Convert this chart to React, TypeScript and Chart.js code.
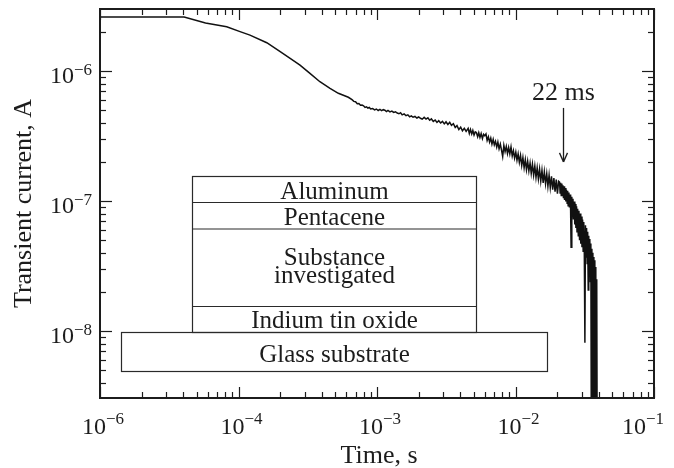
import { useEffect, useRef } from "react";
import { Chart, registerables } from "chart.js";

Chart.register(...registerables);

// ---- data (time in s, current in A) ----
const earlyTimes = [
  1e-5, 4.05e-5, 5.78e-5, 8.22e-5, 1.026e-4, 1.21e-4, 1.6e-4, 2.0e-4, 2.36e-4, 2.78e-4, 3.28e-4, 3.87e-4,
  4.58e-4, 5.26e-4, 6.21e-4,
];
const earlyCurrents = [
  2.6e-6, 2.6e-6, 2.34e-6, 2.19e-6, 2.01e-6, 1.89e-6, 1.65e-6, 1.41e-6, 1.25e-6, 1.11e-6, 9.6e-7, 8.27e-7,
  7.36e-7, 6.74e-7, 6.28e-7,
];

const plateauTimes = [
  6.6e-4, 6.8e-4, 7.0e-4, 7.2e-4, 7.4e-4, 7.6e-4, 7.8e-4, 8.0e-4, 8.2e-4, 8.4e-4, 8.6e-4, 8.8e-4, 9.0e-4,
  9.3e-4, 9.6e-4, 9.9e-4,
  1.02e-3, 1.05e-3, 1.08e-3, 1.11e-3, 1.14e-3, 1.17e-3, 1.2e-3, 1.24e-3, 1.28e-3, 1.32e-3,
  1.36e-3, 1.4e-3, 1.44e-3, 1.48e-3, 1.52e-3, 1.57e-3, 1.62e-3, 1.67e-3, 1.72e-3, 1.77e-3,
  1.82e-3, 1.88e-3, 1.94e-3, 2.0e-3, 2.06e-3, 2.12e-3, 2.19e-3, 2.26e-3, 2.33e-3, 2.4e-3,
  2.47e-3, 2.55e-3, 2.63e-3, 2.71e-3, 2.79e-3, 2.88e-3, 2.97e-3, 3.06e-3, 3.15e-3, 3.25e-3,
  3.35e-3, 3.45e-3, 3.56e-3, 3.67e-3, 3.78e-3, 3.9e-3, 4.02e-3, 4.14e-3, 4.27e-3, 4.4e-3,
];
const plateauCurrents = [
  6.02e-7, 5.84e-7, 5.81e-7, 5.6e-7, 5.63e-7, 5.45e-7, 5.47e-7, 5.4e-7, 5.25e-7, 5.3e-7, 5.19e-7, 5.24e-7, 5.1e-7,
  5.15e-7, 5.02e-7, 5.1e-7,
  4.97e-7, 5.06e-7, 4.96e-7, 5.04e-7, 4.99e-7, 4.88e-7, 4.97e-7, 4.85e-7, 4.92e-7, 4.8e-7,
  4.86e-7, 4.75e-7, 4.69e-7, 4.78e-7, 4.6e-7, 4.68e-7, 4.53e-7, 4.6e-7, 4.44e-7, 4.52e-7,
  4.41e-7, 4.47e-7, 4.35e-7, 4.43e-7, 4.33e-7, 4.26e-7, 4.4e-7, 4.27e-7, 4.36e-7, 4.18e-7,
  4.28e-7, 4.1e-7, 4.2e-7, 4.02e-7, 4.15e-7, 3.98e-7, 4.1e-7, 3.92e-7, 4.07e-7, 3.88e-7,
  4.03e-7, 3.82e-7, 3.93e-7, 3.68e-7, 3.8e-7, 3.55e-7, 3.7e-7, 3.47e-7, 3.62e-7, 3.43e-7,
];

const decayTimes = [
  4.55e-3, 4.64e-3, 4.73e-3, 4.83e-3, 4.92e-3, 5.02e-3, 5.12e-3, 5.22e-3, 5.33e-3, 5.43e-3,
  5.54e-3, 5.65e-3, 5.77e-3, 5.88e-3, 6.0e-3, 6.12e-3, 6.24e-3, 6.37e-3, 6.5e-3, 6.63e-3,
  6.76e-3, 6.9e-3, 7.03e-3, 7.17e-3, 7.32e-3, 7.46e-3, 7.61e-3, 7.77e-3, 7.92e-3, 8.08e-3,
  8.24e-3, 8.41e-3, 8.58e-3, 8.75e-3, 8.92e-3, 9.1e-3, 9.28e-3, 9.47e-3, 9.66e-3, 9.85e-3,
  1.005e-2, 1.025e-2, 1.045e-2, 1.066e-2, 1.087e-2, 1.109e-2, 1.131e-2, 1.154e-2, 1.177e-2, 1.2e-2,
  1.224e-2, 1.249e-2, 1.274e-2, 1.299e-2, 1.325e-2, 1.352e-2, 1.379e-2, 1.406e-2, 1.434e-2, 1.463e-2,
  1.492e-2, 1.522e-2, 1.553e-2, 1.584e-2, 1.615e-2, 1.648e-2, 1.681e-2, 1.714e-2, 1.748e-2, 1.783e-2,
  1.819e-2, 1.855e-2, 1.893e-2, 1.93e-2, 1.969e-2, 2.008e-2, 2.048e-2,
];
const decayCurrents = [
  3.62e-7, 3.31e-7, 3.55e-7, 3.28e-7, 3.49e-7, 3.22e-7, 3.4e-7, 3.36e-7, 3.12e-7, 3.35e-7,
  3.08e-7, 3.3e-7, 3.02e-7, 3.26e-7, 3.18e-7, 3.28e-7, 2.92e-7, 3.12e-7, 2.84e-7, 3.05e-7,
  2.74e-7, 2.98e-7, 2.7e-7, 2.88e-7, 2.6e-7, 2.84e-7, 2.52e-7, 2.74e-7, 2.47e-7, 2.2e-7,
  2.68e-7, 2.4e-7, 2.63e-7, 2.32e-7, 2.58e-7, 2.3e-7, 2.6e-7, 2.22e-7, 2.44e-7, 2.14e-7,
  2.38e-7, 2.06e-7, 2.3e-7, 1.98e-7, 2.24e-7, 1.88e-7, 2.16e-7, 1.8e-7, 2.08e-7, 1.74e-7,
  2.02e-7, 1.7e-7, 1.96e-7, 1.63e-7, 1.92e-7, 1.58e-7, 1.86e-7, 1.52e-7, 1.8e-7, 1.48e-7,
  1.76e-7, 1.42e-7, 1.72e-7, 1.38e-7, 1.68e-7, 1.36e-7, 1.62e-7, 1.3e-7, 1.58e-7, 1.27e-7,
  1.55e-7, 1.22e-7, 1.5e-7, 1.18e-7, 1.46e-7, 1.14e-7, 1.42e-7,
];

const tailTimes = [
  2.08e-2, 2.1e-2, 2.12e-2, 2.14e-2, 2.16e-2, 2.18e-2, 2.2e-2, 2.22e-2, 2.24e-2, 2.26e-2,
  2.29e-2, 2.31e-2, 2.33e-2, 2.36e-2, 2.38e-2, 2.4e-2, 2.43e-2, 2.45e-2, 2.48e-2, 2.5e-2,
  2.52e-2, 2.55e-2, 2.57e-2, 2.6e-2, 2.62e-2, 2.65e-2, 2.68e-2, 2.7e-2, 2.73e-2, 2.76e-2,
  2.78e-2, 2.81e-2, 2.84e-2, 2.87e-2, 2.9e-2, 2.93e-2, 2.96e-2, 2.99e-2, 3.02e-2, 3.05e-2,
  3.08e-2, 3.11e-2, 3.14e-2, 3.17e-2, 3.2e-2, 3.23e-2, 3.26e-2, 3.29e-2, 3.32e-2, 3.35e-2,
  3.38e-2, 3.41e-2, 3.44e-2, 3.47e-2, 3.5e-2, 3.53e-2, 3.56e-2, 3.59e-2, 3.62e-2, 3.65e-2,
  3.68e-2, 3.71e-2, 3.74e-2, 3.77e-2, 3.8e-2, 3.83e-2, 3.86e-2, 3.89e-2,
];
const tailCurrents = [
  14.0e-8, 11.5e-8, 13.8e-8, 11.0e-8, 13.6e-8, 11.3e-8, 13.2e-8, 10.5e-8, 13.0e-8, 10.2e-8,
  12.6e-8, 9.9e-8, 12.2e-8, 9.6e-8, 12.0e-8, 9.2e-8, 11.6e-8, 8.9e-8, 11.2e-8, 8.5e-8,
  4.4e-8, 10.8e-8, 7.6e-8, 10.4e-8, 7.2e-8, 9.9e-8, 6.6e-8, 9.5e-8, 6.2e-8, 9.1e-8,
  5.8e-8, 8.7e-8, 5.4e-8, 8.4e-8, 5.0e-8, 8.0e-8, 4.7e-8, 7.6e-8, 4.4e-8, 7.2e-8,
  4.1e-8, 6.9e-8, 3.9e-8, 0.81e-8, 6.5e-8, 3.7e-8, 6.2e-8, 3.3e-8, 5.8e-8, 2.07e-8,
  5.4e-8, 2.9e-8, 5.1e-8, 2.4e-8, 4.7e-8, 0.1e-8, 4.3e-8, 1.6e-8, 4.0e-8, 0.1e-8,
  3.7e-8, 0.1e-8, 3.5e-8, 0.1e-8, 3.1e-8, 0.1e-8, 2.5e-8, 0.1e-8,
];

const timeS = [...earlyTimes, ...plateauTimes, ...decayTimes, ...tailTimes];
const currentA = [...earlyCurrents, ...plateauCurrents, ...decayCurrents, ...tailCurrents];

// ---- axes / labels ----
const xMin = 1e-5;
const xMax = 1e-1;
const yMin = 3.05e-9;
const yMax = 3.0e-6;
const xTickValues = [1e-5, 1e-4, 1e-3, 1e-2, 1e-1];
const xTickExponents = ["\u22126", "\u22124", "\u22123", "\u22122", "\u22121"];
const yTickValues = [1e-8, 1e-7, 1e-6];
const yTickExponents = ["\u22128", "\u22127", "\u22126"];
const xTitle = "Time, s";
const yTitle = "Transient current, A";
const markerLabel = "22 ms";
const markerTime = 0.022;
const markerFromCurrent = 5.2e-7;
const markerToCurrent = 2.0e-7;
const layerNames = ["Aluminum", "Pentacene", "Substance", "investigated", "Indium tin oxide", "Glass substrate"];

const FONT = '"Liberation Serif", "Times New Roman", Times, serif';
const INK = "#1c1c1c";

const decorPlugin = {
  id: "decor",
  afterDatasetsDraw(chart: any) {
    const { ctx, chartArea: a, scales } = chart;
    const xs = scales.x;
    const ys = scales.y;
    ctx.save();
    ctx.strokeStyle = INK;
    ctx.fillStyle = INK;

    const seg = (x1: number, y1: number, x2: number, y2: number) => {
      ctx.beginPath();
      ctx.moveTo(x1, y1);
      ctx.lineTo(x2, y2);
      ctx.stroke();
    };

    // ticks (inward, all four sides)
    ctx.lineWidth = 1.2;
    for (let d = -5; d <= -1; d++) {
      for (let m = 1; m <= 9; m++) {
        const v = m * Math.pow(10, d);
        if (v < xMin * 0.999 || v > xMax * 1.001) continue;
        const px = Math.round(xs.getPixelForValue(v)) + 0.5;
        const len = m === 1 ? 11 : 6;
        seg(px, a.bottom, px, a.bottom - len);
        seg(px, a.top, px, a.top + len);
      }
    }
    for (let d = -9; d <= -6; d++) {
      for (let m = 1; m <= 9; m++) {
        const v = m * Math.pow(10, d);
        if (v < yMin * 1.01 || v > yMax * 0.99) continue;
        const py = Math.round(ys.getPixelForValue(v)) + 0.5;
        const len = m === 1 ? 12 : 6;
        seg(a.left, py, a.left + len, py);
        seg(a.right, py, a.right - len, py);
      }
    }

    // frame
    ctx.lineWidth = 2;
    ctx.strokeRect(a.left, a.top, a.right - a.left, a.bottom - a.top);

    const baseFont = "24px " + FONT;
    const expFont = "17px " + FONT;

    // x tick labels
    ctx.textBaseline = "alphabetic";
    ctx.textAlign = "left";
    xTickValues.forEach((v, i) => {
      const px = xs.getPixelForValue(v);
      ctx.font = baseFont;
      const w10 = ctx.measureText("10").width;
      ctx.font = expFont;
      const we = ctx.measureText(xTickExponents[i]).width;
      const total = w10 + we;
      let left = px + 3 - total / 2;
      if (left + total > 664) left = 664 - total;
      ctx.font = baseFont;
      ctx.fillText("10", left, a.bottom + 36);
      ctx.font = expFont;
      ctx.fillText(xTickExponents[i], left + w10, a.bottom + 26);
    });

    // y tick labels
    yTickValues.forEach((v, i) => {
      const py = ys.getPixelForValue(v);
      const right = a.left - 8;
      ctx.font = expFont;
      const we = ctx.measureText(yTickExponents[i]).width;
      ctx.textAlign = "left";
      ctx.fillText(yTickExponents[i], right - we, py + 4);
      ctx.font = baseFont;
      ctx.textAlign = "right";
      ctx.fillText("10", right - we, py + 12);
    });

    // axis titles
    ctx.font = "26px " + FONT;
    ctx.textAlign = "center";
    ctx.fillText(xTitle, (a.left + a.right) / 2 + 2, a.bottom + 65);
    ctx.save();
    ctx.translate(31, (a.top + a.bottom) / 2);
    ctx.rotate(-Math.PI / 2);
    ctx.fillText(yTitle, 0, 0);
    ctx.restore();

    // 22 ms marker
    const mx = Math.round(xs.getPixelForValue(markerTime)) + 0.5;
    const yFrom = ys.getPixelForValue(markerFromCurrent);
    const yTo = ys.getPixelForValue(markerToCurrent);
    ctx.lineWidth = 1.3;
    seg(mx, yFrom, mx, yTo);
    seg(mx - 4, yTo - 9, mx, yTo);
    seg(mx + 4, yTo - 9, mx, yTo);
    ctx.font = "26px " + FONT;
    ctx.textAlign = "center";
    ctx.fillText(markerLabel, mx, yFrom - 8);

    // device structure inset
    const L = a.left;
    const T = a.top;
    const sl = L + 92.5, sr = L + 376.5;
    const gl = L + 21.5, gr = L + 447.5;
    const r0 = T + 167.5, r1 = T + 193.5, r2 = T + 220, r3 = T + 297.5, r4 = T + 323.5, r5 = T + 362.5;
    ctx.lineWidth = 1.2;
    ctx.strokeStyle = "#2a2a2a";
    ctx.strokeRect(sl, r0, sr - sl, r4 - r0);
    seg(sl, r1, sr, r1);
    seg(sl, r2, sr, r2);
    seg(sl, r3, sr, r3);
    ctx.strokeRect(gl, r4, gr - gl, r5 - r4);

    ctx.font = "25px " + FONT;
    ctx.textAlign = "center";
    const cx = (sl + sr) / 2;
    ctx.fillText(layerNames[0], cx, T + 190);
    ctx.fillText(layerNames[1], cx, T + 216);
    ctx.fillText(layerNames[2], cx, T + 256);
    ctx.fillText(layerNames[3], cx, T + 274);
    ctx.fillText(layerNames[4], cx, T + 319);
    ctx.fillText(layerNames[5], (gl + gr) / 2, T + 353);

    ctx.restore();
  },
};

export default function App() {
  const canvasRef = useRef<HTMLCanvasElement | null>(null);

  useEffect(() => {
    const canvas = canvasRef.current;
    if (!canvas) return;
    const points = timeS.map((t, i) => ({ x: t, y: currentA[i] }));
    const chart = new Chart(canvas, {
      type: "line",
      data: {
        datasets: [
          {
            data: points,
            borderColor: "#111111",
            borderWidth: 1.5,
            pointRadius: 0,
            fill: false,
            tension: 0,
          },
        ],
      },
      options: {
        animation: false,
        responsive: false,
        devicePixelRatio: 1,
        layout: { padding: { left: 100, top: 9, right: 20, bottom: 70 } },
        plugins: {
          legend: { display: false },
          tooltip: { enabled: false },
          title: { display: false },
        },
        scales: {
          x: { type: "logarithmic", min: xMin, max: xMax, display: false },
          y: { type: "logarithmic", min: yMin, max: yMax, display: false },
        },
      },
      plugins: [decorPlugin],
    } as any);
    return () => chart.destroy();
  }, []);

  return (
    <div style={{ position: "absolute", left: 0, top: 0, width: 674, height: 468, background: "#ffffff" }}>
      <canvas ref={canvasRef} width={674} height={468} style={{ display: "block" }} />
    </div>
  );
}
